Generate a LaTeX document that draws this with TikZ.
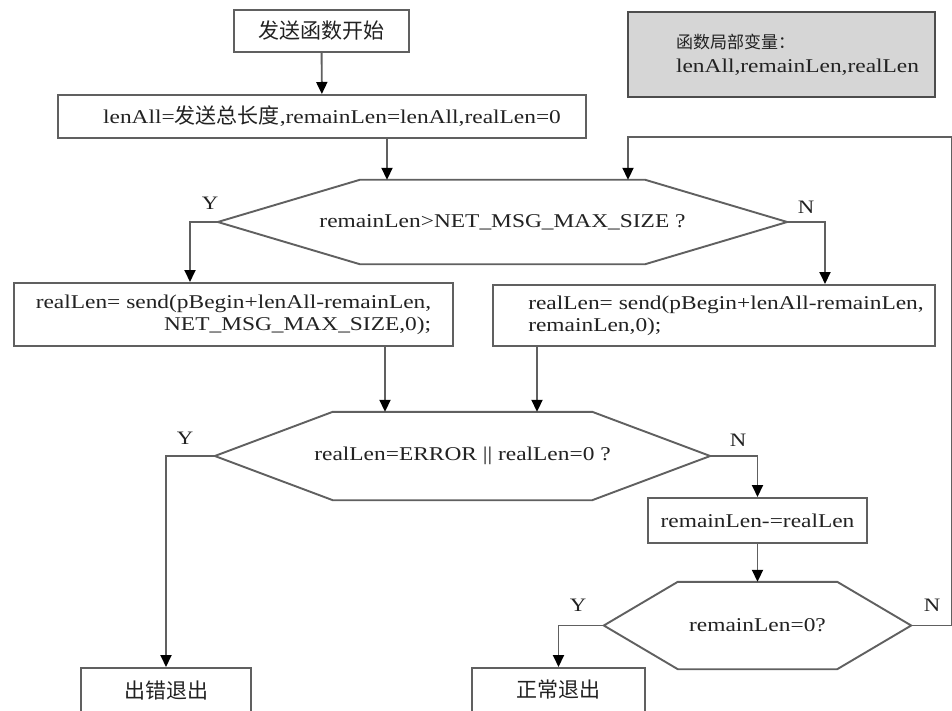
\documentclass[tikz,border=0pt]{standalone}
\usepackage{fontspec}
\setmainfont{Liberation Serif}[FakeStretch=1.2]
\newfontfamily\cjk{Noto Sans CJK SC}
\usetikzlibrary{arrows.meta}
\definecolor{edge}{HTML}{606060}
\definecolor{ink}{HTML}{222222}
\definecolor{panel}{HTML}{D6D6D6}
\newcommand\zh[1]{{\cjk\fontsize{21}{25}\selectfont #1}}
% elongated hexagon drawn on the border of a (hidden) rectangular node
\newcommand\drawhex[2]{\draw[flow] (#1.west) -- ([xshift=#2]#1.north west) -- ([xshift=-#2]#1.north east) -- (#1.east) -- ([xshift=-#2]#1.south east) -- ([xshift=#2]#1.south west) -- cycle;}
\begin{document}
\begin{tikzpicture}[x=1pt,y=-1pt,
  every node/.style={font=\fontsize{19.5}{25}\selectfont, text=ink},
  proc/.style={draw=edge, line width=2pt, inner sep=0pt},
  dec/.style={inner sep=0pt},
  flow/.style={draw=edge, line width=1.9pt},
  arr/.style={flow, -{Triangle[black,width=11pt,length=12pt]}},
  lbl/.style={font=\fontsize{19}{22}\selectfont}]
\useasboundingbox[fill=white] (0,0) rectangle (952,711);

% process boxes
\node[proc, minimum width=175, minimum height=42] (start) at (321.5,31) {\zh{发送函数开始}};
\node[proc, minimum width=528, minimum height=43, align=left] (init) at (322,116.5)
  {\hspace*{20pt}lenAll=\zh{发送总长度},remainLen=lenAll,realLen=0};
\node[draw=edge!80!black, fill=panel, line width=2.6pt, minimum width=307, minimum height=85, inner sep=0pt, align=left] (vars) at (781.5,54.5)
  {\hspace*{32pt}{\cjk\fontsize{17}{22}\selectfont 函数局部变量：}\\[-1pt] \hspace*{32pt}lenAll,remainLen,realLen};
\node[proc, minimum width=439, minimum height=63, align=right] (sendA) at (233.5,314.5)
  {realLen= send(pBegin+lenAll-remainLen,\\[-3pt] NET\_MSG\_MAX\_SIZE,0);};
\node[proc, minimum width=442, minimum height=61, align=left] (sendB) at (714,315.5)
  {\hspace*{24pt}realLen= send(pBegin+lenAll-remainLen,\\[-3pt] \hspace*{24pt}remainLen,0);};
\node[proc, minimum width=219, minimum height=45] (sub) at (757.5,520.5) {remainLen-=realLen};
\node[proc, minimum width=170, minimum height=44] (errexit) at (166,690) {\zh{出错退出}};
\node[proc, minimum width=173, minimum height=44] (okexit) at (558.5,690) {\zh{正常退出}};

% decisions
\node[dec, minimum width=569, minimum height=84] (d1) at (502.5,222) {remainLen>NET\_MSG\_MAX\_SIZE ?};
\drawhex{d1}{142pt}
\node[dec, minimum width=495, minimum height=88] (d2) at (462.5,456) {realLen=ERROR || realLen=0 ?};
\drawhex{d2}{118pt}
\node[dec, minimum width=307, minimum height=87] (d3) at (757.5,625.5) {remainLen=0?};
\drawhex{d3}{74pt}

% branch labels
\node[lbl] (y1) at (210,203) {Y};
\node[lbl] (n1) at (806,207) {N};
\node[lbl] (y2) at (185,438) {Y};
\node[lbl] (n2) at (738,440) {N};
\node[lbl] (y3) at (578,605) {Y};
\node[lbl] (n3) at (932,605) {N};

% routing columns
\coordinate (c0) at (387,0);
\coordinate (ya) at (190,0);
\coordinate (na) at (825,0);
\coordinate (cl) at (385,0);
\coordinate (cr) at (537,0);
\coordinate (rail) at (951.5,0);
\coordinate (back) at (628,137);

% connectors
\draw[arr] (start) -- (init);
\draw[arr] (init.south -| c0) -- (d1.north -| c0);
\draw[arr] (d1.west) -| (sendA.north -| ya);
\draw[arr] (d1.east) -| (sendB.north -| na);
\draw[arr] (sendA.south -| cl) -- (d2.north -| cl);
\draw[arr] (sendB.south -| cr) -- (d2.north -| cr);
\draw[arr] (d2.west) -| (errexit.north);
\draw[arr] (d2.east) -| (sub.north);
\draw[arr] (sub) -- (d3);
\draw[arr] (d3.west) -| (okexit.north);
\draw[arr] (d3.east) -- (d3.east -| rail) -- (rail |- back) -- (back) -- (d1.north -| back);
\end{tikzpicture}
\end{document}
